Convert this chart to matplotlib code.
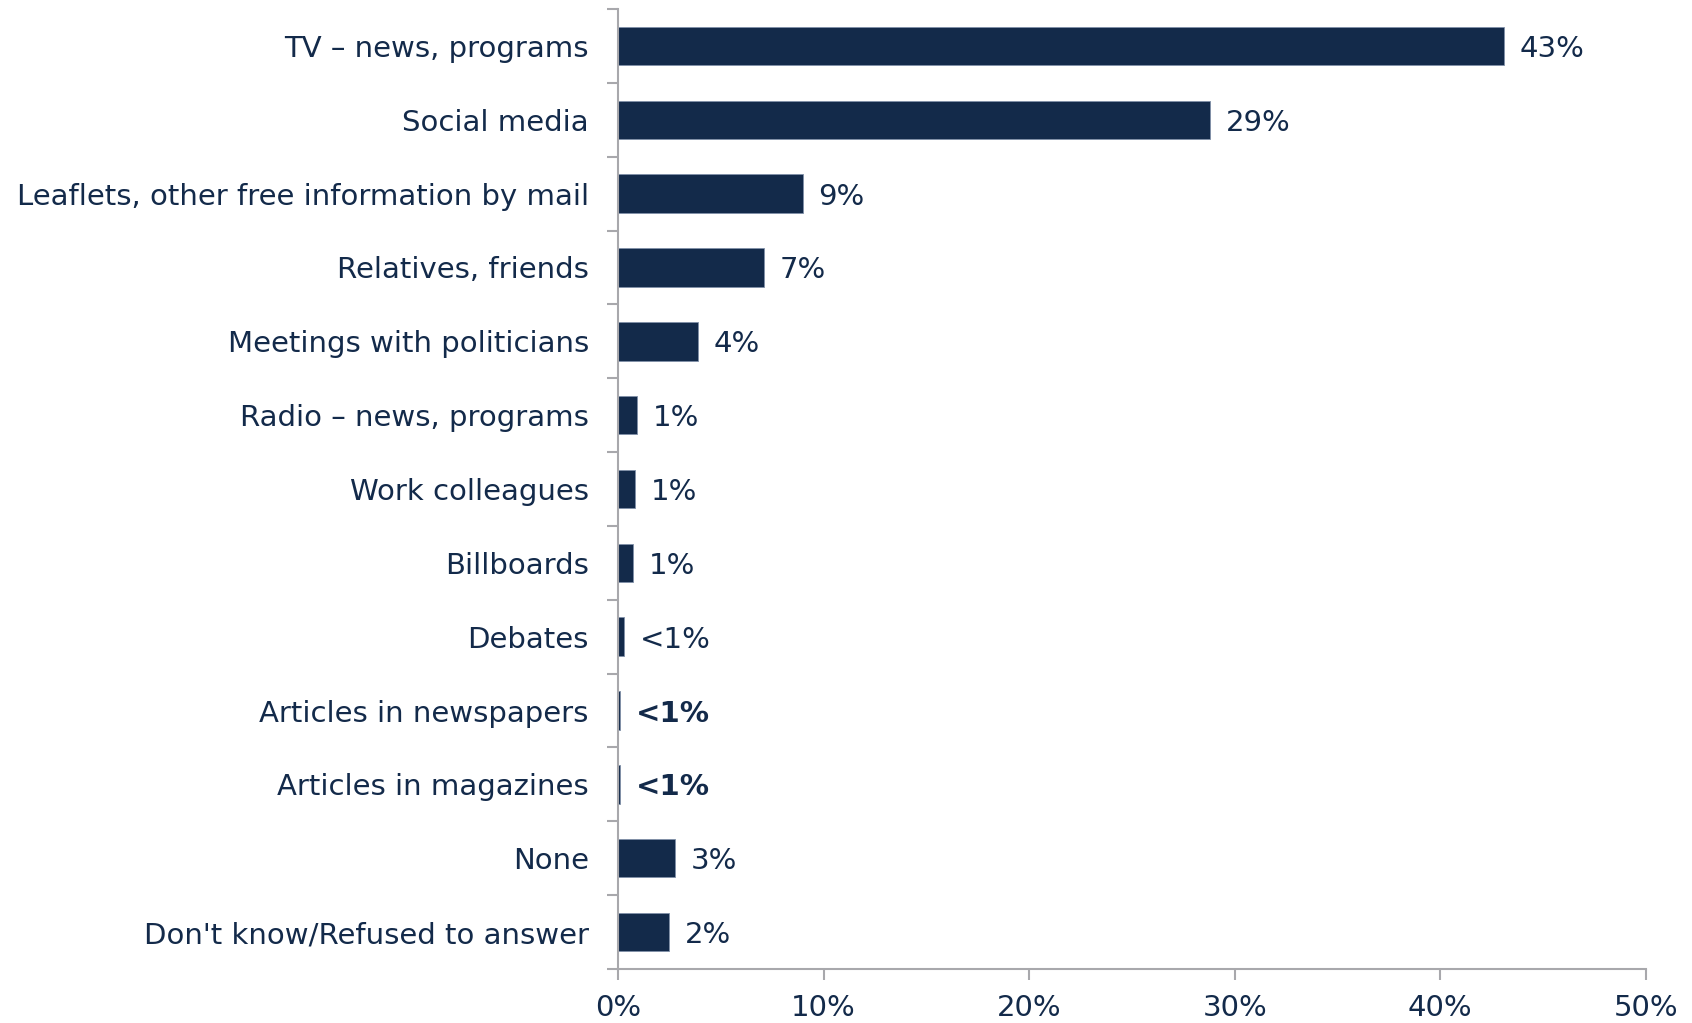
import matplotlib.pyplot as plt
import numpy as np

categories = [
    "TV – news, programs",
    "Social media",
    "Leaflets, other free information by mail",
    "Relatives, friends",
    "Meetings with politicians",
    "Radio – news, programs",
    "Work colleagues",
    "Billboards",
    "Debates",
    "Articles in newspapers",
    "Articles in magazines",
    "None",
    "Don't know/Refused to answer",
]
values = [43.1, 28.8, 9.0, 7.1, 3.9, 0.95, 0.85, 0.75, 0.32, 0.12, 0.12, 2.8, 2.5]
labels = ["43%", "29%", "9%", "7%", "4%", "1%", "1%", "1%", "<1%", "<1%", "<1%", "3%", "2%"]
bold_labels = [False] * 9 + [True, True, False, False]

navy = "#132a4a"
grey = "#a8a8ac"

fig = plt.figure(figsize=(16.92, 10.23), dpi=100)
ax = fig.add_axes([0.3652, 0.0528, 0.6076, 0.9384])

y = np.arange(len(categories))
ax.barh(y, values, height=0.52, color=navy, edgecolor="#8090a8", linewidth=0.6)

for yi, v, lab, b in zip(y, values, labels, bold_labels):
    ax.text(v + 0.75, yi, lab, va="center_baseline", ha="left", fontsize=21,
            color=navy, fontweight="bold" if b else "normal")

ax.set_ylim(len(categories) - 0.5, -0.5)
ax.set_xlim(0, 50)
ax.set_yticks(y)
ax.set_yticklabels(categories, fontsize=21, color=navy)
ax.set_yticks(np.arange(-0.5, len(categories), 1), minor=True)
ax.tick_params(axis="y", which="major", length=0, pad=21)
ax.tick_params(axis="y", which="minor", length=8, color=grey, width=1.5)

xt = np.arange(0, 51, 10)
ax.set_xticks(xt)
ax.set_xticklabels([f"{v}%" for v in xt], fontsize=21, color=navy)
ax.tick_params(axis="x", length=8, color=grey, width=1.5, pad=10)

for s in ["top", "right"]:
    ax.spines[s].set_visible(False)
for s in ["left", "bottom"]:
    ax.spines[s].set_color(grey)
    ax.spines[s].set_linewidth(1.5)

fig.savefig("out.png", dpi=100)
